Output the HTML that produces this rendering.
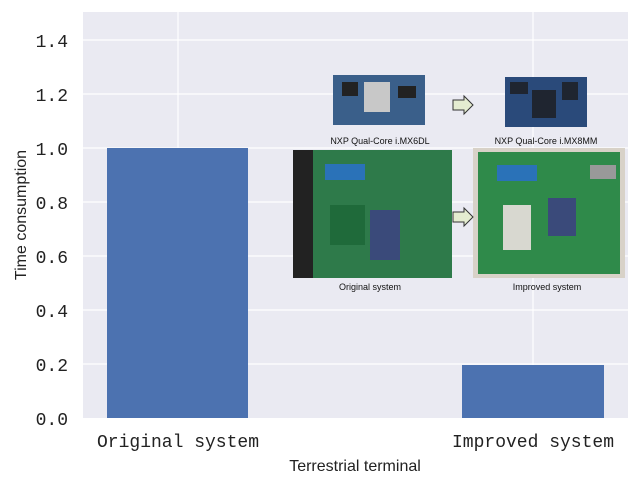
<!DOCTYPE html>
<html><head><meta charset="utf-8"><style>
body{margin:0;background:#fff;}
.m{font-family:"Liberation Mono","Noto Sans CJK SC",monospace;}
.s{font-family:"Liberation Sans",sans-serif;}
</style></head><body>
<svg width="641" height="486" xmlns="http://www.w3.org/2000/svg">
<rect x="0" y="0" width="641" height="486" fill="#fff"/>
<rect x="83" y="12" width="545" height="406" fill="#eaeaf2"/>
<g stroke="#fff" stroke-width="1.2">
<line x1="83" x2="628" y1="364" y2="364"/>
<line x1="83" x2="628" y1="310" y2="310"/>
<line x1="83" x2="628" y1="256" y2="256"/>
<line x1="83" x2="628" y1="202" y2="202"/>
<line x1="83" x2="628" y1="148" y2="148"/>
<line x1="83" x2="628" y1="94" y2="94"/>
<line x1="83" x2="628" y1="40" y2="40"/>
<line x1="178" x2="178" y1="12" y2="418"/>
<line x1="533" x2="533" y1="12" y2="418"/>
</g>
<rect x="107" y="148" width="141" height="270" fill="#4c72b0"/>
<rect x="462" y="365" width="142" height="53" fill="#4c72b0"/>
<g class="m" font-size="18" fill="#222" text-anchor="end">
<text x="68" y="425">0.0</text>
<text x="68" y="371">0.2</text>
<text x="68" y="317">0.4</text>
<text x="68" y="263">0.6</text>
<text x="68" y="209">0.8</text>
<text x="68" y="155">1.0</text>
<text x="68" y="101">1.2</text>
<text x="68" y="47">1.4</text>
</g>
<g class="m" font-size="18" fill="#222" text-anchor="middle">
<text x="178" y="447">Original system</text>
<text x="533" y="447">Improved system</text>
</g>
<text class="s" x="355" y="471" font-size="16" fill="#222" text-anchor="middle">Terrestrial terminal</text>
<text class="s" transform="translate(26,215) rotate(-90)" font-size="16" fill="#222" text-anchor="middle">Time consumption</text>
<!-- small boards -->
<rect x="333" y="75" width="92" height="50" fill="#3a5f8a"/>
<rect x="364" y="82" width="26" height="30" fill="#c8c8c8"/>
<rect x="342" y="82" width="16" height="14" fill="#222"/>
<rect x="398" y="86" width="18" height="12" fill="#222"/>
<rect x="505" y="77" width="82" height="50" fill="#2a4a7a"/>
<rect x="532" y="90" width="24" height="28" fill="#1f2530"/>
<rect x="562" y="82" width="16" height="18" fill="#1f2530"/>
<rect x="510" y="82" width="18" height="12" fill="#1f2530"/>
<!-- large boards -->
<rect x="293" y="150" width="159" height="128" fill="#2e7a4a"/>
<rect x="293" y="150" width="20" height="128" fill="#222"/>
<rect x="325" y="164" width="40" height="16" fill="#2a72b8"/>
<rect x="370" y="210" width="30" height="50" fill="#3a4a7a"/>
<rect x="330" y="205" width="35" height="40" fill="#1f6a3a"/>
<rect x="473" y="148" width="152" height="130" fill="#d8d2c8"/>
<rect x="478" y="152" width="142" height="122" fill="#2f8a4a"/>
<rect x="497" y="165" width="40" height="16" fill="#2a72b8"/>
<rect x="503" y="205" width="28" height="45" fill="#d8d8d0"/>
<rect x="548" y="198" width="28" height="38" fill="#3a4a7a"/>
<rect x="590" y="165" width="26" height="14" fill="#999"/>
<!-- arrows -->
<path d="M453 100 h11 v-4 l9 9 l-9 9 v-4 h-11 z" fill="#e4ecd0" stroke="#333" stroke-width="1"/>
<path d="M453 212 h11 v-4 l9 9 l-9 9 v-4 h-11 z" fill="#e4ecd0" stroke="#333" stroke-width="1"/>
<g class="s" font-size="9" fill="#111" text-anchor="middle">
<text x="380" y="144">NXP Qual-Core i.MX6DL</text>
<text x="546" y="144">NXP Qual-Core i.MX8MM</text>
<text x="370" y="290">Original system</text>
<text x="547" y="290">Improved system</text>
</g>
</svg>
</body></html>
